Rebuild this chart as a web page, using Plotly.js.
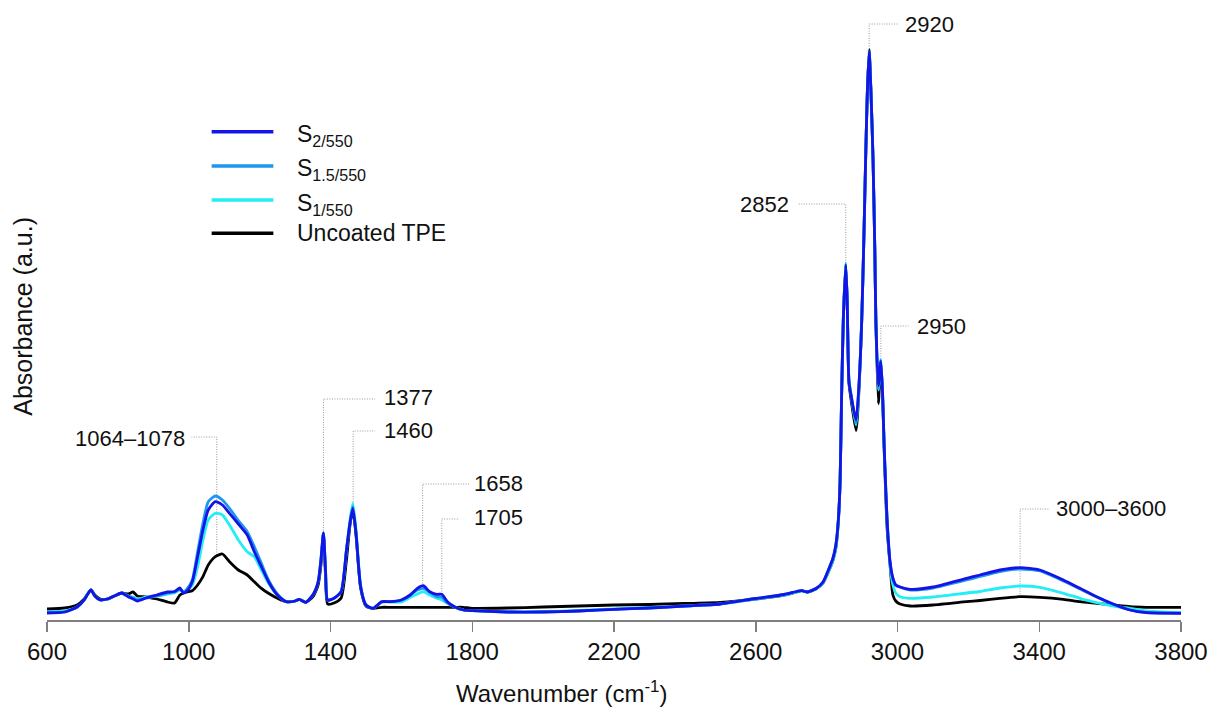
<!DOCTYPE html>
<html><head><meta charset="utf-8">
<script src="https://cdn.plot.ly/plotly-3.0.1.min.js"></script>
<style>html,body{margin:0;padding:0;background:#fff}#chart{width:1208px;height:708px}</style>
</head><body><div id="chart"></div>
<script>
// Wavenumber (cm-1)
const wavenumber = [600,650,685,705,715,724,735,750,770,790,811,830,843,855,880,910,940,960,975,985,995,1010,1025,1040,1055,1075,1095,1115,1140,1165,1185,1205,1225,1250,1275,1300,1312,1330,1350,1365,1373,1380,1386,1392,1410,1430,1445,1455,1463,1472,1485,1500,1520,1545,1570,1600,1625,1645,1662,1680,1700,1714,1730,1750,1775,1800,1900,2000,2100,2200,2300,2400,2500,2600,2680,2715,2730,2745,2770,2790,2805,2818,2826,2833,2838,2842,2847,2854,2858,2863,2870,2883,2892,2899,2905,2910,2915,2920,2925,2931,2936,2939,2946,2953,2958,2962,2967,2971,2979,2987,2995,3007,3036,3100,3195,3233,3289,3346,3402,3468,3515,3562,3609,3656,3702,3800];

// Absorbance (a.u.)
const absUncoated = [0.011,0.012,0.015,0.021,0.026,0.030,0.025,0.021,0.021,0.024,0.027,0.026,0.028,0.024,0.023,0.021,0.018,0.017,0.025,0.027,0.028,0.0293,0.035,0.0433,0.055,0.0633,0.066,0.0583,0.050,0.045,0.0383,0.0317,0.0267,0.0217,0.0183,0.019,0.0207,0.0177,0.023,0.035,0.055,0.085,0.045,0.016,0.017,0.022,0.060,0.095,0.110,0.085,0.032,0.014,0.0117,0.0127,0.0127,0.0127,0.0127,0.0127,0.0127,0.0127,0.0127,0.0127,0.0127,0.0127,0.0127,0.0117,0.012,0.013,0.014,0.015,0.0155,0.0165,0.0175,0.021,0.025,0.028,0.0293,0.028,0.031,0.037,0.048,0.060,0.072,0.098,0.138,0.218,0.299,0.354,0.319,0.237,0.218,0.1895,0.235,0.299,0.380,0.460,0.530,0.570,0.530,0.460,0.370,0.299,0.2164,0.258,0.224,0.175,0.123,0.090,0.055,0.025,0.019,0.016,0.014,0.015,0.0183,0.0195,0.0217,0.0233,0.0227,0.0207,0.0183,0.0167,0.015,0.0133,0.0127,0.0127];

const absS1 = [0.008,0.009,0.013,0.020,0.026,0.030,0.024,0.020,0.021,0.024,0.027,0.024,0.023,0.021,0.023,0.024,0.026,0.027,0.030,0.028,0.030,0.035,0.0533,0.080,0.100,0.1067,0.105,0.095,0.080,0.0683,0.0633,0.050,0.0367,0.025,0.0183,0.019,0.0207,0.0177,0.025,0.038,0.060,0.087,0.050,0.020,0.0217,0.0283,0.070,0.100,0.1167,0.090,0.035,0.015,0.0117,0.018,0.018,0.018,0.0227,0.026,0.0283,0.025,0.0217,0.020,0.0167,0.013,0.010,0.0093,0.008,0.0085,0.0095,0.011,0.0125,0.014,0.016,0.021,0.025,0.028,0.0293,0.028,0.031,0.037,0.048,0.060,0.072,0.098,0.138,0.220,0.302,0.357,0.321,0.240,0.223,0.195,0.238,0.299,0.380,0.460,0.529,0.568,0.529,0.460,0.370,0.299,0.230,0.2605,0.226,0.178,0.130,0.098,0.055,0.035,0.027,0.0233,0.0217,0.023,0.027,0.0285,0.032,0.034,0.0327,0.0267,0.0217,0.0173,0.014,0.0117,0.009,0.0073];

const absS15 = [0.008,0.008,0.013,0.020,0.026,0.030,0.024,0.020,0.021,0.024,0.027,0.024,0.022,0.020,0.022,0.024,0.027,0.028,0.031,0.028,0.031,0.040,0.0683,0.0967,0.1183,0.124,0.120,0.1117,0.0993,0.0883,0.0733,0.0567,0.040,0.026,0.0183,0.019,0.0207,0.0177,0.025,0.038,0.060,0.087,0.050,0.020,0.0217,0.0283,0.070,0.097,0.1133,0.087,0.0333,0.015,0.0117,0.018,0.0183,0.020,0.025,0.030,0.0317,0.028,0.0233,0.0227,0.017,0.013,0.010,0.0093,0.008,0.008,0.009,0.0107,0.012,0.014,0.016,0.0215,0.0255,0.0285,0.0293,0.028,0.0315,0.038,0.050,0.062,0.075,0.100,0.138,0.220,0.300,0.356,0.320,0.239,0.223,0.197,0.239,0.299,0.380,0.460,0.529,0.568,0.529,0.460,0.370,0.299,0.232,0.2595,0.225,0.178,0.130,0.098,0.058,0.041,0.035,0.033,0.030,0.032,0.040,0.0435,0.0485,0.051,0.049,0.039,0.031,0.023,0.0155,0.010,0.0075,0.007];

const absS2 = [0.007,0.008,0.013,0.020,0.026,0.030,0.024,0.020,0.021,0.024,0.027,0.023,0.021,0.019,0.022,0.025,0.028,0.0285,0.032,0.027,0.029,0.0383,0.0633,0.090,0.110,0.1183,0.115,0.1067,0.096,0.085,0.0683,0.0533,0.0383,0.025,0.0183,0.019,0.0207,0.0177,0.025,0.038,0.060,0.087,0.050,0.020,0.0217,0.0283,0.070,0.097,0.1117,0.0867,0.0333,0.015,0.0117,0.0183,0.0183,0.020,0.025,0.0317,0.0343,0.0283,0.0257,0.0257,0.0183,0.0133,0.010,0.0093,0.008,0.008,0.009,0.0107,0.012,0.014,0.016,0.0215,0.0255,0.0285,0.0293,0.028,0.0315,0.038,0.050,0.062,0.075,0.100,0.138,0.219,0.299,0.355,0.319,0.2385,0.2224,0.200,0.240,0.299,0.380,0.460,0.529,0.568,0.529,0.460,0.370,0.299,0.2345,0.2586,0.225,0.178,0.130,0.098,0.058,0.042,0.035,0.033,0.0307,0.033,0.0417,0.045,0.050,0.0523,0.050,0.040,0.0317,0.0233,0.016,0.010,0.0073,0.0067];

const seriesNames = ['Uncoated TPE','S<sub>1/550</sub>','S<sub>1.5/550</sub>','S<sub>2/550</sub>'];
const seriesColors = ['#000000','#22eef4','#1e96f0','#1414e6'];
const seriesValues = [absUncoated, absS1, absS15, absS2];

const xTicks = [600,1000,1400,1800,2200,2600,3000,3400,3800];

const peakText = ['1064–1078','1377','1460','1658','1705','2852','2920','2950','3000–3600'];

const FONT = 'Liberation Sans, Arial, Helvetica, sans-serif';

const traces = seriesValues.map((v, i) => ({
  type: 'scatter', mode: 'lines', x: wavenumber, y: v,
  name: seriesNames[i], showlegend: false, hoverinfo: 'skip',
  line: {color: seriesColors[i], width: 2.8, shape: 'spline', smoothing: 0.6}
}));

// leader line layout for each peak label: text position, anchor, path
const leaders = [
  {tx: 995,  ty: 0.1817, xa: 'right', pts: [[1079,0.065],[1079,0.183],[1008,0.183]]},
  {tx: 1544, ty: 0.2227, xa: 'left',  pts: [[1380,0.087],[1380,0.221],[1526,0.221]]},
  {tx: 1544, ty: 0.190,  xa: 'left',  pts: [[1464,0.113],[1464,0.189],[1526,0.189]]},
  {tx: 1800, ty: 0.1367, xa: 'left',  pts: [[1660,0.034],[1660,0.136],[1794,0.136]]},
  {tx: 1800, ty: 0.1027, xa: 'left',  pts: [[1714,0.026],[1714,0.101],[1761,0.101]]},
  {tx: 2700, ty: 0.416,  xa: 'right', pts: [[2854,0.357],[2854,0.416],[2719,0.416]]},
  {tx: 3016, ty: 0.596,  xa: 'left',  pts: [[2920,0.571],[2920,0.596],[3002,0.596]]},
  {tx: 3049, ty: 0.294,  xa: 'left',  pts: [[2953,0.261],[2953,0.294],[3031,0.294]]},
  {tx: 3442, ty: 0.1117, xa: 'left',  pts: [[3346,0.0233],[3346,0.111],[3426,0.111]]}
];

const shapes = leaders.map(l => ({
  type: 'path', xref: 'x', yref: 'y',
  path: 'M ' + l.pts.map(p => p[0] + ',' + p[1]).join(' L '),
  line: {color: '#9a9a9a', width: 1, dash: '1px,1.5px'}, layer: 'below'
}));

const annotations = leaders.map((l, i) => ({
  x: l.tx, y: l.ty, xref: 'x', yref: 'y', text: peakText[i], showarrow: false,
  xanchor: l.xa, yanchor: 'middle', font: {family: FONT, size: 22, color: '#111'}
}));

// manual legend (top to bottom: S2, S1.5, S1, Uncoated)
const legendOrder = [3, 2, 1, 0];
const legendY = [0.8138, 0.7567, 0.700, 0.6445];
legendOrder.forEach((si, k) => {
  shapes.push({type: 'line', xref: 'paper', yref: 'paper', x0: 0.1452, x1: 0.1996,
    y0: legendY[k], y1: legendY[k], line: {color: seriesColors[si], width: 3.5}});
  annotations.push({xref: 'paper', yref: 'paper', x: 0.2187, y: legendY[k],
    xanchor: 'left', yanchor: 'middle', showarrow: false, text: seriesNames[si],
    yshift: si === 0 ? 0 : -4,
    font: {family: FONT, size: 23, color: '#111'}});
});

annotations.push({xref: 'paper', yref: 'paper', x: 0.454, y: -0.12, xanchor: 'center', yanchor: 'middle',
  showarrow: false, text: 'Wavenumber (cm<sup>-1</sup>)', font: {family: FONT, size: 24, color: '#111'}});
annotations.push({xref: 'paper', yref: 'paper', x: -0.0212, y: 0.507, xanchor: 'center', yanchor: 'middle',
  showarrow: false, textangle: -90, text: 'Absorbance (a.u.)', font: {family: FONT, size: 25, color: '#111'}});

const layout = {
  width: 1208, height: 708,
  margin: {l: 47, r: 27, t: 20, b: 88},
  paper_bgcolor: '#fff', plot_bgcolor: '#fff',
  font: {family: FONT, color: '#111'},
  xaxis: {range: [600, 3800], tickvals: xTicks, ticktext: xTicks.map(String),
    showgrid: false, zeroline: false, showline: true, linecolor: '#7f7f7f', linewidth: 1.5,
    ticks: 'outside', ticklen: 10, tickwidth: 1.5, tickcolor: '#7f7f7f',
    tickfont: {family: FONT, size: 24, color: '#111'}},
  yaxis: {range: [0, 0.6], showgrid: false, zeroline: false, showline: false,
    showticklabels: false, ticks: ''},
  shapes: shapes, annotations: annotations, showlegend: false
};

Plotly.newPlot('chart', traces, layout, {staticPlot: true, displayModeBar: false});
</script>
</body></html>
